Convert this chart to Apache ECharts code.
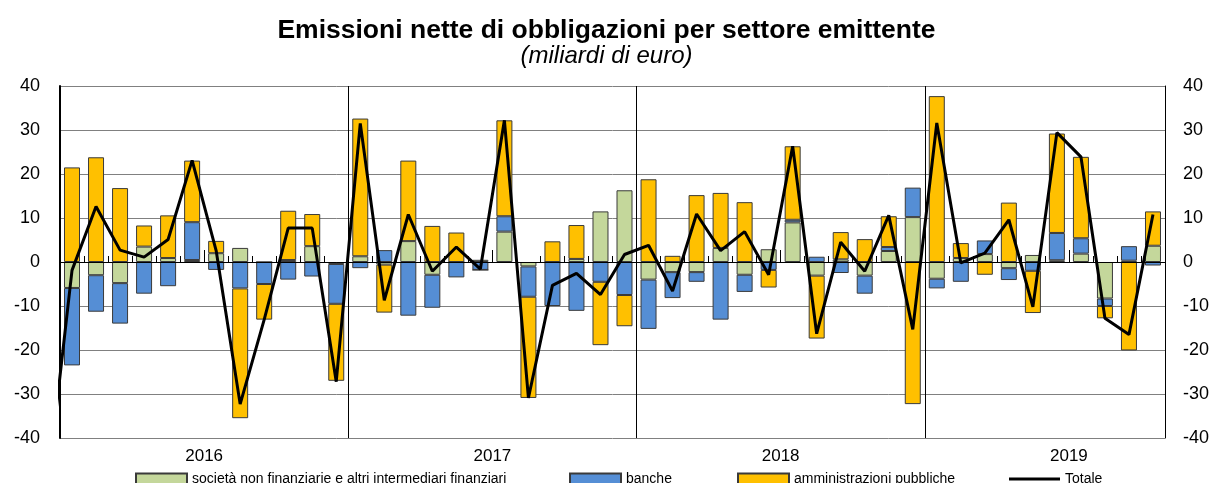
<!DOCTYPE html>
<html>
<head>
<meta charset="utf-8">
<script src="https://cdn.jsdelivr.net/npm/echarts@6/dist/echarts.min.js"></script>
<style>
html, body { margin: 0; padding: 0; background: #fff; }
#chart { width: 1213px; height: 483px; }
</style>
</head>
<body>
<div id="chart"></div>
<script>
// mesi da gennaio 2016 a ottobre 2019
const mesi = [
    'gen 2016', 'feb 2016', 'mar 2016', 'apr 2016', 'mag 2016', 'giu 2016', 'lug 2016', 'ago 2016', 'set 2016', 'ott 2016', 'nov 2016', 'dic 2016',
    'gen 2017', 'feb 2017', 'mar 2017', 'apr 2017', 'mag 2017', 'giu 2017', 'lug 2017', 'ago 2017', 'set 2017', 'ott 2017', 'nov 2017', 'dic 2017',
    'gen 2018', 'feb 2018', 'mar 2018', 'apr 2018', 'mag 2018', 'giu 2018', 'lug 2018', 'ago 2018', 'set 2018', 'ott 2018', 'nov 2018', 'dic 2018',
    'gen 2019', 'feb 2019', 'mar 2019', 'apr 2019', 'mag 2019', 'giu 2019', 'lug 2019', 'ago 2019', 'set 2019', 'ott 2019'
];
const anni = ['2016', '2017', '2018', '2019'];

const societa = [
    -5.9, -3.0, -4.8, 3.5, 0.9, 0.45, 2.0, 3.2, 0, 0.45, 3.6, -0.45,
    1.3, -0.6, 4.75, -2.9, 0, 0.5, 6.9, -1.0, 0, 0.7, 11.5, 16.3,
    -4.0, -2.3, -2.3, 3.2, -2.9, 2.9, 9.0, -3.1, 0.6, -3.1, 2.5, 10.2,
    -3.8, 0.9, 1.8, -1.4, 1.6, 0.4, 1.9, -8.3, 0.3, 3.7
];
const banche = [
    -17.6, -8.3, -9.2, -7.2, -5.5, 8.6, -1.8, -6.0, -5.0, -4.0, -3.3, -9.05,
    -1.4, 2.7, -12.2, -7.5, -3.5, -1.8, 3.5, -6.9, -10.0, -11.1, -4.5, -7.5,
    -11.2, -5.9, -2.2, -13.1, -3.9, -1.8, 0.6, 1.2, -2.5, -4.1, 0.9, 6.7,
    -2.2, -4.5, 3.1, -2.7, -2.0, 6.2, 3.5, -1.7, 3.3, -0.8
];
const ammPubbliche = [
    21.5, 23.8, 16.8, 4.8, 9.7, 14.0, 2.8, -29.5, -8.1, 11.2, 7.3, -17.5,
    31.3, -10.9, 18.3, 8.2, 6.7, 0, 21.8, -23.0, 4.7, 7.7, -14.4, -7.1,
    18.8, 1.4, 15.2, 12.5, 13.6, -4.0, 16.7, -14.3, 6.2, 5.2, 7.0, -32.3,
    37.7, 3.4, -2.9, 13.5, -9.6, 22.6, 18.5, -2.8, -20.1, 7.8
];
const totale = [
    -1.9, 12.6, 2.7, 1.1, 5.1, 23.1, 2.6, -32.3, -13.1, 7.7, 7.7, -27.2,
    31.5, -8.7, 10.8, -2.1, 3.4, -1.6, 32.2, -30.9, -5.3, -2.6, -7.4, 1.7,
    3.8, -6.6, 10.9, 2.6, 6.9, -2.9, 26.3, -16.3, 4.5, -2.1, 10.6, -15.3,
    31.6, -0.2, 2.0, 9.6, -10.2, 29.4, 23.9, -12.8, -16.5, 10.8
];
const totaleDic2015 = -50; // mese precedente, fuori dal grafico (solo il tratto iniziale)

const nomi = [
    'società non finanziarie e altri intermediari finanziari',
    'banche',
    'amministrazioni pubbliche',
    'Totale'
];
const font = "'Liberation Sans', Arial, sans-serif";

// linea del totale su asse numerico: centro del mese i = i + 0.5
const totaleLinea = [[-0.5, totaleDic2015]];
totale.forEach(function (v, i) {
    totaleLinea.push([i + 0.5, v]);
});

function barra(nome, dati, colore) {
    return {
        name: nome,
        type: 'bar',
        stack: 'emissioni',
        barWidth: 16,
        data: dati,
        itemStyle: { color: colore, borderColor: '#3a3a3a', borderWidth: 1 },
        animation: false
    };
}

function legenda(nome, left, extra) {
    return Object.assign({
        data: [nome],
        left: left,
        top: 472,
        padding: 0,
        icon: 'rect',
        itemWidth: 51,
        itemHeight: 11,
        itemGap: 0,
        selectedMode: false,
        textStyle: { fontFamily: font, fontSize: 14, color: '#000', padding: [0, 0, 0, 0] }
    }, extra || {});
}

const myChart = echarts.init(document.getElementById('chart'));
myChart.setOption({
    backgroundColor: '#fff',
    animation: false,
    title: {
        text: 'Emissioni nette di obbligazioni per settore emittente',
        subtext: '(miliardi di euro)',
        left: 'center',
        top: 17,
        itemGap: 0,
        padding: 0,
        textStyle: { fontFamily: font, fontSize: 26.5, fontWeight: 'bold', color: '#000' },
        subtextStyle: { fontFamily: font, fontSize: 24, fontStyle: 'italic', color: '#000' }
    },
    legend: [
        legenda(nomi[0], 135),
        legenda(nomi[1], 569),
        legenda(nomi[2], 737),
        legenda(nomi[3], 1009, { itemHeight: 3, itemStyle: { color: '#000', borderWidth: 0 } })
    ],
    grid: { left: 60, right: 48, top: 86, bottom: 45 },
    xAxis: [
        {
            type: 'category',
            data: mesi,
            boundaryGap: true,
            axisLine: { show: true, lineStyle: { color: '#000', width: 1 } },
            axisTick: { show: true, inside: true, length: 6, interval: 0, lineStyle: { color: '#000' } },
            axisLabel: { show: false },
            splitLine: {
                show: true,
                interval: function (index) { return index > 0 && index % 12 === 0; },
                lineStyle: { color: '#000', width: 1 }
            }
        },
        {
            type: 'value',
            min: 0,
            max: 46,
            position: 'bottom',
            axisLine: { show: false },
            splitLine: { show: false },
            axisTick: {
                show: true, inside: true, length: 12,
                customValues: [6, 18, 30, 42],
                lineStyle: { color: '#000' }
            },
            axisLabel: {
                customValues: [6, 18, 30, 42],
                formatter: function (v) { return anni[(v - 6) / 12]; },
                fontFamily: font, fontSize: 17, color: '#000', margin: 10
            }
        }
    ],
    yAxis: [
        {
            type: 'value',
            position: 'left',
            min: -40, max: 40, interval: 10,
            axisLine: { show: true, lineStyle: { color: '#000', width: 2 } },
            axisTick: { show: false },
            axisLabel: { fontFamily: font, fontSize: 18, color: '#000', margin: 20 },
            splitLine: { show: true, lineStyle: { color: '#808080', width: 1 } }
        },
        {
            type: 'value',
            position: 'right',
            min: -40, max: 40, interval: 10,
            axisLine: { show: true, lineStyle: { color: '#000', width: 1 } },
            axisTick: { show: false },
            axisLabel: { fontFamily: font, fontSize: 18, color: '#000', margin: 18 },
            splitLine: { show: false }
        }
    ],
    series: [
        Object.assign(barra(nomi[0], societa, '#c4d79b'), {
            markLine: {
                silent: true, symbol: 'none', label: { show: false },
                lineStyle: { color: '#000', width: 1, type: 'solid' },
                data: [{ yAxis: 0 }]
            }
        }),
        barra(nomi[1], banche, '#558ed5'),
        barra(nomi[2], ammPubbliche, '#ffc000'),
        {
            name: nomi[3],
            type: 'line',
            xAxisIndex: 1,
            data: totaleLinea,
            symbol: 'none',
            clip: true,
            z: 5,
            lineStyle: { color: '#000', width: 3 },
            itemStyle: { color: '#000' },
            animation: false
        }
    ]
});
</script>
</body>
</html>
